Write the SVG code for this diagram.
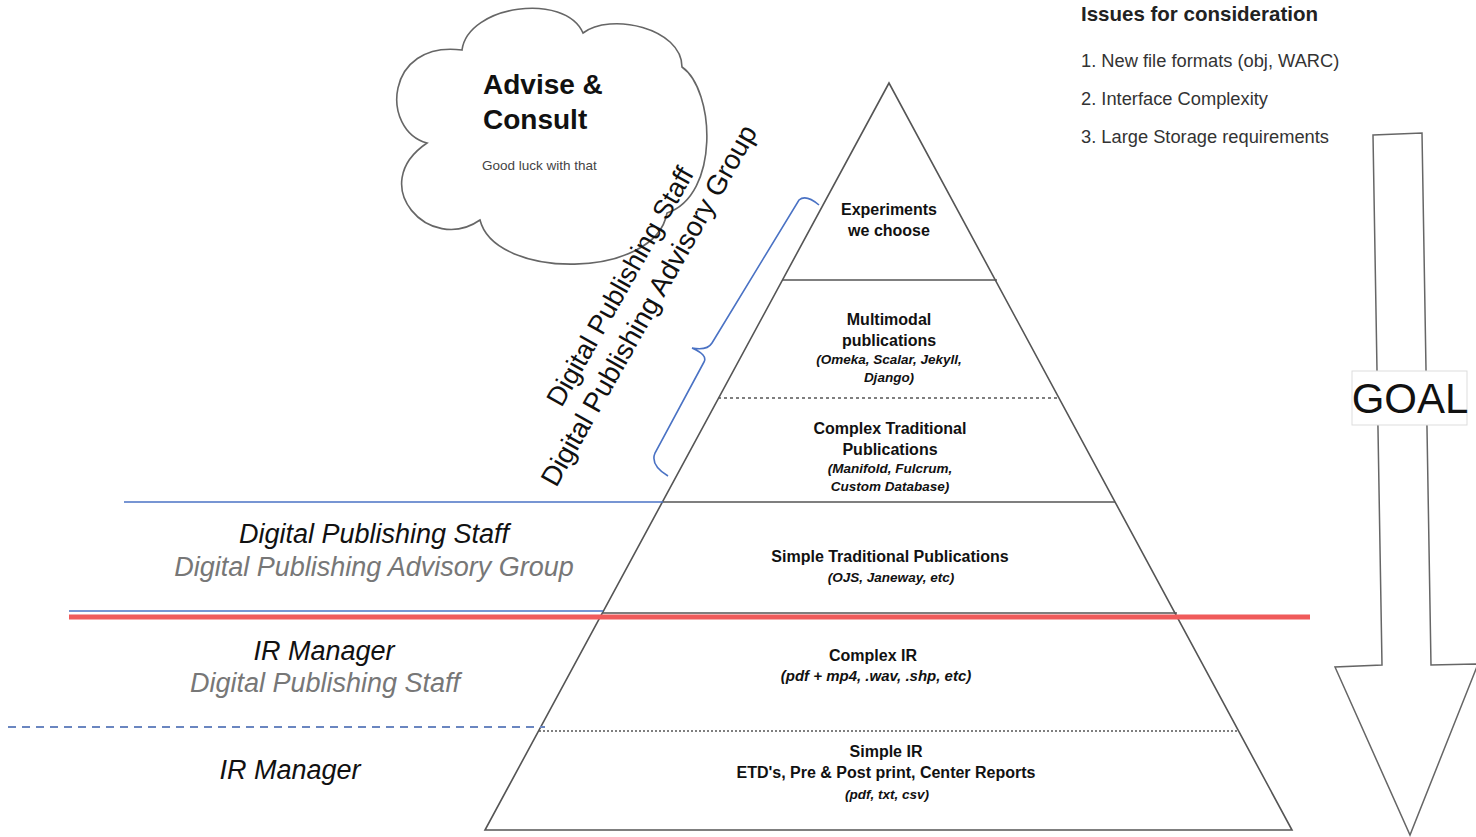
<svg xmlns="http://www.w3.org/2000/svg" width="1476" height="837" viewBox="0 0 1476 837">
<style>
.ln{stroke:#555;stroke-width:1.6;fill:none}
.blue{stroke:#4a72c4;stroke-width:1.6;fill:none}
.t{font-family:"Liberation Sans",Arial,sans-serif;fill:#111;text-anchor:middle}
.b{font-weight:bold;font-size:16px}
.bi{font-weight:bold;font-style:italic;font-size:13.5px}
.lab{font-family:"Liberation Sans",Arial,sans-serif;font-style:italic;font-size:27px;text-anchor:middle}
</style>
<rect width="1476" height="837" fill="#fff"/>
<g id="cloud">
<path d="M462,50 C468,5 565,-8 583,33 C610,12 682,28 682,67 C715,90 720,195 667,213 C655,280 495,280 480,220 C430,255 365,185 427,143 C380,130 385,40 462,50 Z" fill="#fff" stroke="#666" stroke-width="1.6"/>
<text x="483" y="94" style="font-family:'Liberation Sans',Arial,sans-serif;font-weight:bold;font-size:28px;fill:#111">Advise &amp;</text>
<text x="483" y="129" style="font-family:'Liberation Sans',Arial,sans-serif;font-weight:bold;font-size:28px;fill:#111">Consult</text>
<text x="482" y="170" style="font-family:'Liberation Sans',Arial,sans-serif;font-size:13.5px;fill:#444">Good luck with that</text>
</g>
<g id="issues">
<text x="1081" y="21" style="font-family:'Liberation Sans',Arial,sans-serif;font-weight:bold;font-size:20.5px;fill:#222">Issues for consideration</text>
<text x="1081" y="67" style="font-family:'Liberation Sans',Arial,sans-serif;font-size:18.3px;fill:#333">1. New file formats (obj, WARC)</text>
<text x="1081" y="105" style="font-family:'Liberation Sans',Arial,sans-serif;font-size:18.3px;fill:#333">2. Interface Complexity</text>
<text x="1081" y="143" style="font-family:'Liberation Sans',Arial,sans-serif;font-size:18.3px;fill:#333">3. Large Storage requirements</text>
</g>
<g id="goal">
<path d="M1373,135 L1422,133 L1431,665 L1478,664 L1410,835 L1335,667 L1382,665 Z" fill="#fff" stroke="#666" stroke-width="1.5"/>
<rect x="1352" y="371" width="115" height="54" fill="#fff" stroke="#ddd" stroke-width="1"/>
<text x="1410" y="413" style="font-family:'Liberation Sans',Arial,sans-serif;font-size:42px;fill:#111;text-anchor:middle">GOAL</text>
</g>
<g id="pyramid">
<path class="ln" d="M889,83 L485,830 L1292,830 Z" stroke-width="1.8"/>
<line class="ln" x1="782" y1="280" x2="997" y2="280"/>
<line class="ln" x1="718" y1="398" x2="1058" y2="398" stroke-dasharray="3,3" stroke-width="1.2"/>
<line class="ln" x1="663" y1="502" x2="1115" y2="502"/>
<line class="ln" x1="603" y1="613" x2="1177" y2="613"/>
<line class="ln" x1="539" y1="731" x2="1239" y2="731" stroke-dasharray="2,2" stroke-width="1.2"/>
</g>
<g id="tier-experiments">
<text class="t b" x="889" y="215">Experiments</text>
<text class="t b" x="889" y="236">we choose</text>
</g>
<g id="tier-multimodal">
<text class="t b" x="889" y="325">Multimodal</text>
<text class="t b" x="889" y="346">publications</text>
<text class="t bi" x="889" y="364">(Omeka, Scalar, Jekyll,</text>
<text class="t bi" x="889" y="382">Django)</text>
</g>
<g id="tier-complex-trad">
<text class="t b" x="890" y="434">Complex Traditional</text>
<text class="t b" x="890" y="455">Publications</text>
<text class="t bi" x="890" y="473">(Manifold, Fulcrum,</text>
<text class="t bi" x="890" y="491">Custom Database)</text>
</g>
<g id="tier-simple-trad">
<text class="t b" x="890" y="562">Simple Traditional Publications</text>
<text class="t bi" x="891" y="582">(OJS, Janeway, etc)</text>
</g>
<g id="tier-complex-ir">
<text class="t b" x="873" y="661">Complex IR</text>
<text class="t bi" x="876" y="681" style="font-size:15px">(pdf + mp4, .wav, .shp,  etc)</text>
</g>
<g id="tier-simple-ir">
<text class="t b" x="886" y="757">Simple IR</text>
<text class="t b" x="886" y="778">ETD's, Pre &amp; Post print, Center Reports</text>
<text class="t bi" x="887" y="799">(pdf, txt, csv)</text>
</g>
<g id="connectors">
<line class="blue" x1="124" y1="502" x2="663" y2="502"/>
<line class="blue" x1="69" y1="611" x2="603" y2="611"/>
<line x1="69" y1="617" x2="1310" y2="617" stroke="#f05b5b" stroke-width="5"/>
<line x1="8" y1="727" x2="545" y2="727" stroke="#6a86c0" stroke-width="2" stroke-dasharray="8,6"/>
<path class="blue" stroke-width="1.3" d="M819,205 Q806,194 799,200 L712,343 Q707,351 692,348 Q708,355 704,362 L655,453 Q650,465 668,476"/>
</g>
<g id="role-labels">
<text class="lab" x="374" y="543" fill="#111">Digital Publishing Staff</text>
<text class="lab" x="374" y="576" fill="#777">Digital Publishing Advisory Group</text>
<text class="lab" x="324" y="660" fill="#111">IR Manager</text>
<text class="lab" x="325" y="692" fill="#777">Digital Publishing Staff</text>
<text class="lab" x="290" y="779" fill="#111">IR Manager</text>
</g>
<g id="rotated-labels" style="font-family:'Liberation Sans',Arial,sans-serif;fill:#111;text-anchor:middle">
<text transform="translate(628,291) rotate(-60.5)" style="font-size:27px">Digital Publishing Staff</text>
<text transform="translate(657,310) rotate(-60.5)" style="font-size:27.7px">Digital Publishing Advisory Group</text>
</g>
</svg>
